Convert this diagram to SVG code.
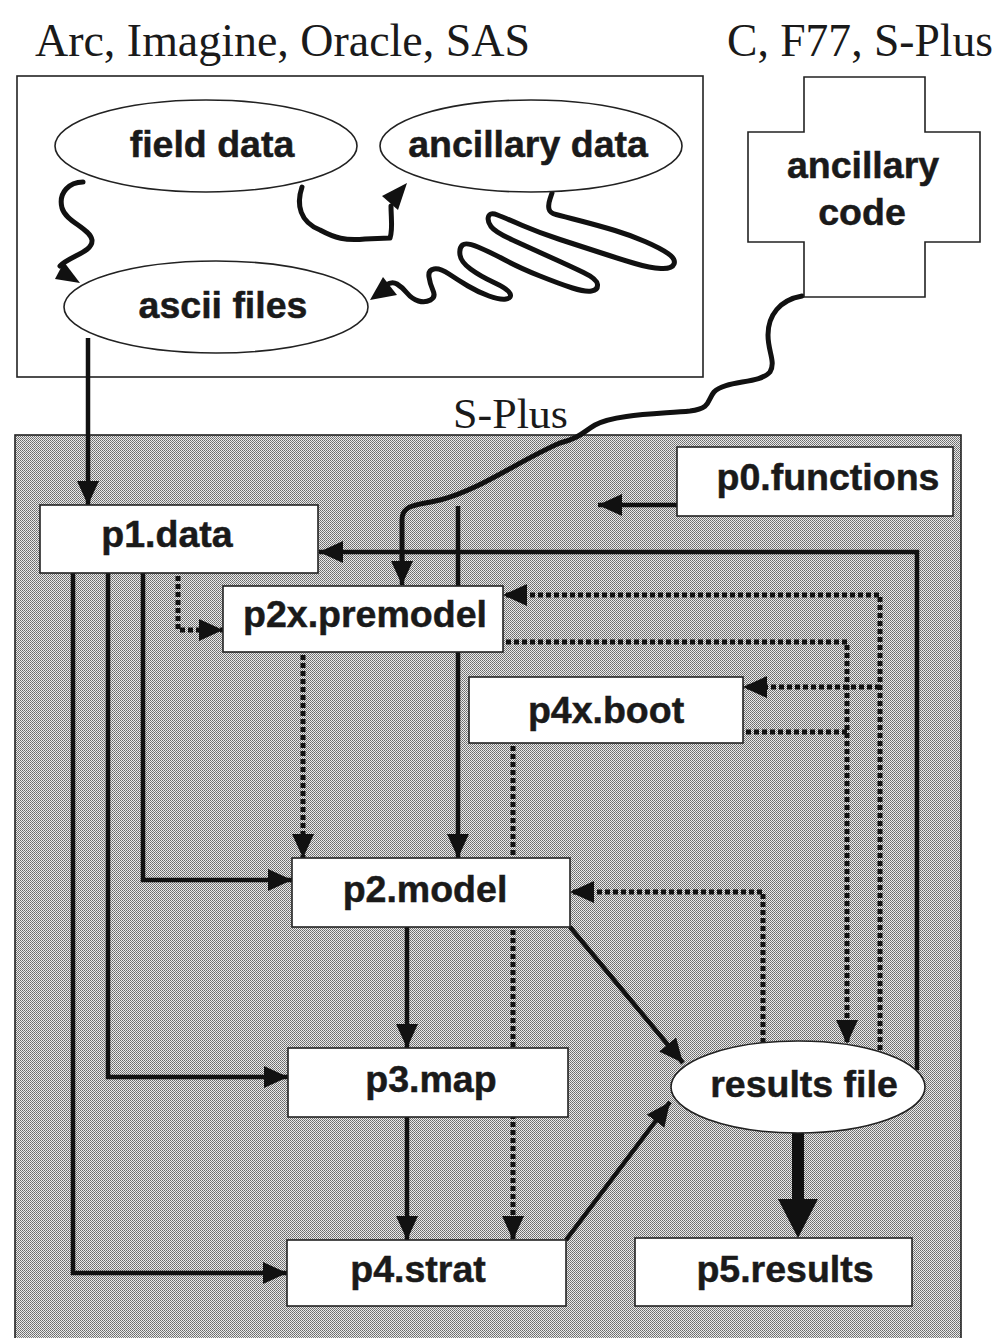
<svg xmlns="http://www.w3.org/2000/svg" width="1007" height="1338" viewBox="0 0 1007 1338">
<style>
.lbl{font-family:"Liberation Sans",Arial,sans-serif;font-weight:bold;font-size:37.5px;fill:#1a1a1a;stroke:#1a1a1a;stroke-width:0.5;text-anchor:middle}
.ser{font-family:"Liberation Serif","Times New Roman",serif;fill:#1a1a1a}
.box{fill:#fff;stroke:#222;stroke-width:1.6}
.sol{fill:none;stroke:#111;stroke-width:4.5}
.dot{fill:none;stroke:#111;stroke-width:5;stroke-dasharray:5 3}
.wig{fill:none;stroke:#111;stroke-width:5;stroke-linecap:round;stroke-linejoin:round}
.head{fill:#111}
</style>
<defs>
<pattern id="stip" width="2" height="2" patternUnits="userSpaceOnUse">
<rect width="2" height="2" fill="#eaeaea"/>
<rect x="0" y="0" width="1" height="1" fill="#6a6a6a"/>
<rect x="1" y="1" width="1" height="1" fill="#7e7e7e"/>
</pattern>
<marker id="ah" markerUnits="userSpaceOnUse" markerWidth="24" markerHeight="22" refX="24" refY="11" orient="auto">
<path d="M0,0 L24,11 L0,22 z" fill="#111"/>
</marker>
</defs>
<rect width="1007" height="1338" fill="#fff"/>

<text class="ser" x="35" y="56" font-size="46" textLength="495" lengthAdjust="spacingAndGlyphs">Arc, Imagine, Oracle, SAS</text>
<text class="ser" x="727" y="56" font-size="46" textLength="266" lengthAdjust="spacingAndGlyphs">C, F77, S-Plus</text>

<g id="arc-box"><rect x="17" y="76" width="686" height="301" fill="#fff" stroke="#222" stroke-width="1.6"/></g>
<g id="splus-box"><rect x="15" y="435" width="946" height="910" fill="url(#stip)" stroke="#222" stroke-width="1.6"/></g>
<text class="ser" x="453" y="428" font-size="42" textLength="115" lengthAdjust="spacingAndGlyphs">S-Plus</text>

<g id="connectors">
<path class="wig" d="M83,182 C70,182 58,192 62,208 C66,222 90,228 92,240 C93,252 70,256 60,266"/>
<polygon class="head" points="55,279 80,283 64,262"/>
<path class="wig" d="M302,187 C296,205 300,222 320,230 C335,238 345,241 365,239 L390,238 C393,230 391,218 391,206"/>
<polygon class="head" points="382,196 407,183 398,210"/>
<path class="wig" d="M552,193 L550,199 Q548,205 549,209 Q550,213 556,214.5 Q562,216 581,221 Q600,226 615,230.5 Q630,235 645,241.5 Q660,248 668,253.5 Q676,259 674,264 Q672,269 661,268.5 Q650,268 635,263.5 Q620,259 600,252.5 Q580,246 560,239.5 Q540,233 522.5,225.5 Q505,218 497.5,215 Q490,212 488.5,216.5 Q487,221 491,226.5 Q495,232 512.5,240 Q530,248 550,257 Q570,266 583.5,272.5 Q597,279 597.5,284.5 Q598,290 591.5,291 Q585,292 572.5,288 Q560,284 540,276 Q520,268 505,260 Q490,252 478,247 Q466,242 462.5,245 Q459,248 460,255 Q461,262 470.5,269 Q480,276 494,282.5 Q508,289 510,293.5 Q512,298 506,299 Q500,300 489,296 Q478,292 468,286 Q458,280 449,274 Q440,268 434,269 Q428,270 429,277 Q430,284 433,290.5 Q436,297 430.5,300 Q425,303 418.5,301 Q412,299 407,293 Q402,287 397,284 Q392,281 386,285"/>
<polygon class="head" points="370,300 383,277 397,295"/>
<path class="wig" d="M802,296 C780,300 768,315 768,335 C768,352 776,362 770,372 C760,384 725,380 714,392 C707,400 712,408 690,411 C660,414 615,414 595,425 C583,432 580,438 560,443 C520,460 480,490 440,500 C420,505 402,503 402,520 L402,560" stroke-width="4.5"/>
<path class="sol" d="M402,555 L402,585" marker-end="url(#ah)"/>

<path class="sol" d="M88,338 L88,505" marker-end="url(#ah)"/>
<path class="sol" d="M917,1070 L917,552 L319,552" marker-end="url(#ah)"/>
<path class="sol" d="M143,573 L143,880 L292,880" marker-end="url(#ah)"/>
<path class="sol" d="M108,573 L108,1077 L288,1077" marker-end="url(#ah)"/>
<path class="sol" d="M73,573 L73,1273 L287,1273" marker-end="url(#ah)"/>
<path class="sol" d="M677,505 L598,505" marker-end="url(#ah)"/>
<path class="sol" d="M458,506 L458,858" marker-end="url(#ah)"/>
<path class="sol" d="M407,927 L407,1048" marker-end="url(#ah)"/>
<path class="sol" d="M407,1117 L407,1240" marker-end="url(#ah)"/>
<path class="sol" d="M570,927 L683,1063" marker-end="url(#ah)"/>
<path class="sol" d="M566,1240 L670,1102" marker-end="url(#ah)"/>
<rect x="792" y="1132" width="12" height="70" fill="#111"/>
<polygon class="head" points="778,1199 818,1199 798,1238"/>

<path class="dot" d="M178,576 L178,630 L223,630" marker-end="url(#ah)"/>
<path class="dot" d="M303,655 L303,858" marker-end="url(#ah)"/>
<path class="dot" d="M880,1050 L880,595 L503,595" marker-end="url(#ah)"/>
<path class="dot" d="M880,687 L743,687" marker-end="url(#ah)"/>
<path class="dot" d="M506,642 L847,642 L847,1044" marker-end="url(#ah)"/>
<path class="dot" d="M746,732 L847,732"/>
<path class="dot" d="M763,1043 L763,892 L570,892" marker-end="url(#ah)"/>
<path class="dot" d="M513,746 L513,1240" marker-end="url(#ah)"/>
</g>

<g id="field-data"><ellipse class="box" cx="206" cy="146" rx="151" ry="46"/><text class="lbl" x="212" y="157">field data</text></g>
<g id="ancillary-data"><ellipse class="box" cx="531" cy="146" rx="151" ry="46"/><text class="lbl" x="528" y="157">ancillary data</text></g>
<g id="ascii-files"><ellipse class="box" cx="216" cy="307" rx="152" ry="46"/><text class="lbl" x="223" y="318">ascii files</text></g>
<g id="ancillary-code"><polygon class="box" points="804,77 925,77 925,132 980,132 980,242 925,242 925,297 804,297 804,242 748,242 748,132 804,132"/><text class="lbl" x="863" y="178">ancillary</text><text class="lbl" x="862" y="225">code</text></g>

<g id="p0-functions"><rect class="box" x="677" y="447" width="276" height="69"/><text class="lbl" x="828" y="490">p0.functions</text></g>
<g id="p1-data"><rect class="box" x="40" y="505" width="278" height="68"/><text class="lbl" x="167" y="547">p1.data</text></g>
<g id="p2x-premodel"><rect class="box" x="223" y="586" width="280" height="66"/><text class="lbl" x="365" y="627">p2x.premodel</text></g>
<g id="p4x-boot"><rect class="box" x="469" y="677" width="274" height="66"/><text class="lbl" x="606" y="723">p4x.boot</text></g>
<g id="p2-model"><rect class="box" x="292" y="858" width="278" height="69"/><text class="lbl" x="425" y="902">p2.model</text></g>
<g id="p3-map"><rect class="box" x="288" y="1048" width="280" height="69"/><text class="lbl" x="431" y="1092">p3.map</text></g>
<g id="p4-strat"><rect class="box" x="287" y="1240" width="279" height="66"/><text class="lbl" x="418" y="1282">p4.strat</text></g>
<g id="results-file"><ellipse class="box" cx="798" cy="1087" rx="127" ry="46"/><text class="lbl" x="804" y="1097">results file</text></g>
<g id="p5-results"><rect class="box" x="635" y="1238" width="277" height="68"/><text class="lbl" x="785" y="1282">p5.results</text></g>
</svg>
